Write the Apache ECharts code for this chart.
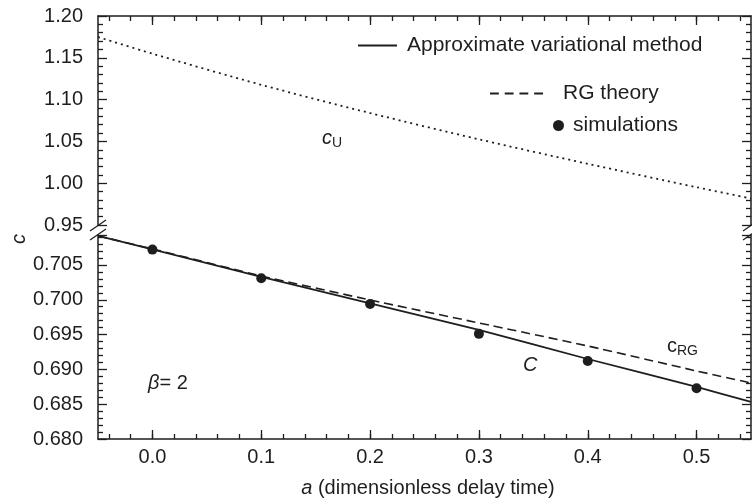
<!DOCTYPE html>
<html>
<head>
<meta charset="utf-8">
<script src="https://cdn.jsdelivr.net/npm/echarts@6/dist/echarts.min.js"></script>
<style>
  html, body { margin: 0; padding: 0; background: #fff; }
  #chart { width: 752px; height: 504px; }
</style>
</head>
<body>
<div id="chart"></div>
<script>
// ---- data ----
const aValues = [-0.05, 0, 0.1, 0.2, 0.3, 0.4, 0.5, 0.55];
const cUpper = [1.1749, 1.1549, 1.1177, 1.0839, 1.0525, 1.0232, 0.9952, 0.9817];
const cVariational = [0.70917, 0.70723, 0.70328, 0.69947, 0.69566, 0.69149, 0.68747, 0.68532];
const cRGTheory = [0.70917, 0.70730, 0.70342, 0.69997, 0.69667, 0.69336, 0.68977, 0.68805];
const simA = [0, 0.1, 0.2, 0.3, 0.4, 0.5];
const simC = [0.7072, 0.7031, 0.6994, 0.6951, 0.6912, 0.6873];
const xTickLabels = [0, 0.1, 0.2, 0.3, 0.4, 0.5];
const seriesNames = ['Approximate variational method', 'RG theory', 'simulations', 'cU'];

const xMinorTicks = [];
for (let i = -2; i <= 27; i++) xMinorTicks.push(Math.round(i * 2) / 100);

const INK = '#1e1e1e';
const FONT = "'Liberation Sans', Arial, Helvetica, sans-serif";
const FS = 20;
const LFS = 21;

function pairs(xs, ys) { return xs.map((x, i) => [x, ys[i]]); }
function onGrid(v, step) { return Math.abs(v / step - Math.round(v / step)) < 1e-6; }

function xAxisDef(gridIndex, position, minor, labels) {
  return {
    type: 'value', min: -0.05, max: 0.55,
    gridIndex, position,
    splitLine: { show: false },
    axisLine: { show: !minor, onZero: false, lineStyle: { color: INK, width: 1.5 } },
    axisTick: { show: true, inside: true, length: minor ? 5 : 9,
      customValues: minor ? xMinorTicks : xTickLabels,
      lineStyle: { color: INK, width: 1.3 } },
    axisLabel: labels ? { show: true, customValues: xTickLabels, margin: 8,
      formatter: v => v.toFixed(1), color: INK, fontSize: FS, fontFamily: FONT } : { show: false }
  };
}

function yAxisDef(gridIndex, position, lo, hi, step, digits, labels) {
  return {
    type: 'value', gridIndex, position, min: lo, max: hi, interval: step,
    splitLine: { show: false },
    axisLine: { show: true, onZero: false, lineStyle: { color: INK, width: 1.5 } },
    axisTick: { show: true, inside: true, length: 9, lineStyle: { color: INK, width: 1.3 } },
    minorTick: { show: true, splitNumber: 5, length: 5, lineStyle: { color: INK, width: 1.3 } },
    axisLabel: labels ? { show: true, margin: 15, color: INK, fontSize: FS, fontFamily: FONT,
      formatter: v => onGrid(v, step) ? v.toFixed(digits) : '' } : { show: false }
  };
}

const legendText = { fontSize: LFS, fontFamily: FONT, color: INK };

const chart = echarts.init(document.getElementById('chart'), null, { renderer: 'canvas' });

const option = {
  animation: false,
  backgroundColor: '#fff',
  textStyle: { fontFamily: FONT, color: INK },
  grid: [
    { left: 98, top: 16, width: 653, height: 209 },
    { left: 98, top: 235, width: 653, height: 204 }
  ],
  xAxis: [
    xAxisDef(0, 'top', false, false),
    xAxisDef(0, 'top', true, false),
    xAxisDef(1, 'bottom', false, true),
    xAxisDef(1, 'bottom', true, false)
  ],
  yAxis: [
    yAxisDef(0, 'left', 0.95, 1.20, 0.05, 2, true),
    yAxisDef(0, 'right', 0.95, 1.20, 0.05, 2, false),
    yAxisDef(1, 'left', 0.680, 0.7093, 0.005, 3, true),
    yAxisDef(1, 'right', 0.680, 0.7093, 0.005, 3, false)
  ],
  legend: [
    { data: [{ name: seriesNames[0], icon: 'path://M0,0H40V2H0Z' }],
      left: 353, top: 30, itemWidth: 39, itemHeight: 2,
      itemStyle: { color: INK },
      textStyle: Object.assign({ padding: [0, 0, 0, 5] }, legendText) },
    { data: [{ name: seriesNames[1], icon: 'path://M0,0H9V2H0Z M15,0H24V2H15Z M30,0H39V2H30Z M45,0H54V2H45Z' }],
      left: 485, top: 78, itemWidth: 53, itemHeight: 2,
      itemStyle: { color: INK },
      textStyle: Object.assign({ padding: [0, 0, 0, 15] }, legendText) },
    { data: [seriesNames[2]], left: 548, top: 110, itemWidth: 11, itemHeight: 11,
      itemStyle: { color: INK, opacity: 1 },
      textStyle: Object.assign({ padding: [0, 0, 0, 4] }, legendText) }
  ],
  series: [
    { name: seriesNames[3], type: 'line', xAxisIndex: 0, yAxisIndex: 0, smooth: 0.3,
      symbol: 'none', data: pairs(aValues, cUpper), clip: false,
      lineStyle: { color: INK, width: 1.8, type: [2, 4] } },
    { name: seriesNames[0], type: 'line', xAxisIndex: 2, yAxisIndex: 2, smooth: 0.2,
      symbol: 'none', data: pairs(aValues, cVariational), clip: false,
      itemStyle: { color: INK },
      lineStyle: { color: INK, width: 1.8, type: 'solid' } },
    { name: seriesNames[1], type: 'line', xAxisIndex: 2, yAxisIndex: 2, smooth: 0.2,
      symbol: 'none', data: pairs(aValues, cRGTheory), clip: false,
      itemStyle: { color: INK },
      lineStyle: { color: INK, width: 1.6, type: [9, 5] } },
    { name: seriesNames[2], type: 'scatter', xAxisIndex: 2, yAxisIndex: 2,
      symbol: 'circle', symbolSize: 10, data: pairs(simA, simC),
      itemStyle: { color: INK, opacity: 1 } }
  ],
  graphic: [
    // axis break marks
    { type: 'line', shape: { x1: 90, y1: 231, x2: 106, y2: 220 }, style: { stroke: INK, lineWidth: 1.3 } },
    { type: 'line', shape: { x1: 90, y1: 240, x2: 106, y2: 229 }, style: { stroke: INK, lineWidth: 1.3 } },
    { type: 'line', shape: { x1: 743, y1: 231, x2: 759, y2: 220 }, style: { stroke: INK, lineWidth: 1.3 } },
    { type: 'line', shape: { x1: 743, y1: 240, x2: 759, y2: 229 }, style: { stroke: INK, lineWidth: 1.3 } },
    // y axis title
    { type: 'text', x: 19, y: 239, rotation: Math.PI / 2,
      style: { text: 'c', fontSize: FS, fontStyle: 'italic', fontFamily: FONT, fill: INK,
        align: 'center', verticalAlign: 'middle' } },
    // x axis title
    { type: 'text', x: 428, y: 488,
      style: { text: '{i|a} (dimensionless delay time)', fontSize: FS, fontFamily: FONT, fill: INK,
        align: 'center', verticalAlign: 'middle',
        rich: { i: { fontStyle: 'italic', fontSize: FS, fontFamily: FONT, fill: INK } } } },
    // curve labels
    { type: 'text', x: 322, y: 126,
      style: { text: '{c|c}{s|U}', fontFamily: FONT, fill: INK,
        rich: { c: { fontSize: FS, fontStyle: 'italic', fontFamily: FONT, fill: INK },
                s: { fontSize: 14, fontFamily: FONT, fill: INK, padding: [10, 0, 0, 0] } } } },
    { type: 'text', x: 667, y: 334,
      style: { text: '{c|c}{s|RG}', fontFamily: FONT, fill: INK,
        rich: { c: { fontSize: FS, fontFamily: FONT, fill: INK },
                s: { fontSize: 14, fontFamily: FONT, fill: INK, padding: [10, 0, 0, 0] } } } },
    { type: 'text', x: 523, y: 355,
      style: { text: 'C', fontSize: FS, fontStyle: 'italic', fontFamily: FONT, fill: INK } },
    { type: 'text', x: 148, y: 373,
      style: { text: '{i|β}= 2', fontSize: FS, fontFamily: FONT, fill: INK,
        rich: { i: { fontStyle: 'italic', fontSize: FS, fontFamily: FONT, fill: INK } } } }
  ]
};

chart.setOption(option);
</script>
</body>
</html>
